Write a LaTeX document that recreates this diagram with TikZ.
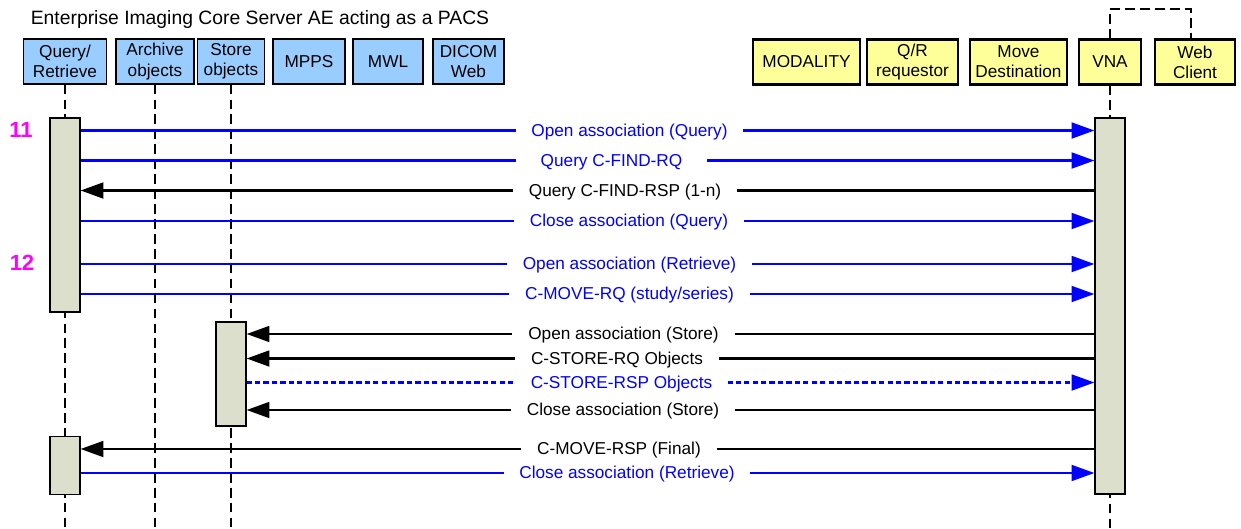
\documentclass[tikz,border=0pt]{standalone}
\usepackage{fontspec}
\setmainfont{Liberation Sans}
\usetikzlibrary{arrows.meta,positioning,calc}
\definecolor{pacsblue}{RGB}{153,204,255}
\definecolor{extyellow}{RGB}{255,255,153}
\definecolor{barfill}{RGB}{220,223,204}
\definecolor{stepnum}{RGB}{255,0,255}
\tikzset{
  pacs/.style={draw, fill=pacsblue, line width=0.7pt, minimum height=0.9cm, inner sep=1pt, align=center},
  extern/.style={draw, fill=extyellow, line width=1.2pt, minimum height=0.9cm, inner sep=1pt, align=center},
  life/.style={line width=0.85pt, dash pattern=on 5.5pt off 3pt},
  actbar/.style={draw, fill=barfill, line width=0.7pt, minimum width=0.6cm, inner sep=0pt},
  req/.style={blue, line width=1.4pt, -{Triangle[length=13pt,width=9pt]}},
  rsp/.style={black, line width=1.4pt, -{Triangle[length=13pt,width=9pt]}},
  lbl/.style={fill=white, inner xsep=9pt, inner ysep=1pt, yshift=-0.8pt},
}
\begin{document}
\begin{tikzpicture}[x=0.02cm, y=-0.02cm, font=\fontsize{9.8}{11.5}\selectfont]
\useasboundingbox (0,0) rectangle (1241,528);
\node[font=\fontsize{11}{13}\selectfont] (title) at (260,20) {Enterprise Imaging Core Server AE acting as a PACS};
\node[pacs, minimum width=1.66cm] (qr) at (65,61.5) {Query/\\Retrieve};
\node[pacs, minimum width=1.56cm] (arch) at (155,61.5) {Archive\\objects};
\node[pacs, minimum width=1.34cm] (store) at (231,61.5) {Store\\objects};
\node[pacs, minimum width=1.44cm] (mpps) at (309,61.5) {MPPS};
\node[pacs, minimum width=1.40cm] (mwl) at (388,61.5) {MWL};
\node[pacs, minimum width=1.42cm] (dweb) at (468.5,61.5) {DICOM\\Web};
\node[extern, minimum width=2.14cm] (mod) at (806.5,62) {MODALITY};
\node[extern, minimum width=1.82cm] (qrreq) at (912.5,62) {Q/R\\requestor};
\node[extern, minimum width=1.94cm] (movedest) at (1018.5,62) {Move\\Destination};
\node[extern, minimum width=1.24cm] (vna) at (1110,62) {VNA};
\node[extern, minimum width=1.60cm] (webcl) at (1195,62) {Web\\Client};
\draw[life] (vna.north) -- (vna.north |- 0,9) -- (1191,9) -- (webcl.north -| 1191,0);
\draw[life] (qr.south) -- (qr.south |- 0,528);
\draw[life] (arch.south) -- (arch.south |- 0,528);
\draw[life] (store.south) -- (store.south |- 0,528);
\draw[life] (vna.south) -- (vna.south |- 0,528);
\node[actbar, minimum height=3.88cm] (qrA) at (qr.south |- 0,215) {};
\node[actbar, minimum height=2.08cm] (stB) at (store.south |- 0,374) {};
\node[actbar, minimum height=1.15cm] (qrC) at (qr.south |- 0,465.5) {};
\node[actbar, minimum height=7.52cm] (vnaA) at (vna.south |- 0,306) {};
\node[text=stepnum, font=\fontsize{12.5}{14}\selectfont\bfseries] (s11) at (21,130) {11};
\node[text=stepnum, font=\fontsize{12.5}{14}\selectfont\bfseries] (s12) at (22,263) {12};
\draw[req] (qrA.east |- 0,130.5) -- (vnaA.west |- 0,130.5);
\node[lbl, text=blue] (m1) at (629.5,130.5) {Open association (Query)};
\draw[req] (qrA.east |- 0,160.5) -- (vnaA.west |- 0,160.5);
\node[lbl, text=blue, inner xsep=14pt] (m2) at (611.5,160.5) {Query C-FIND-RQ};
\draw[rsp] (vnaA.west |- 0,190.5) -- (qrA.east |- 0,190.5);
\node[lbl] (m3) at (625,190.5) {Query C-FIND-RSP (1-n)};
\draw[req] (qrA.east |- 0,221) -- (vnaA.west |- 0,221);
\node[lbl, text=blue] (m4) at (629,221) {Close association (Query)};
\draw[req] (qrA.east |- 0,264) -- (vnaA.west |- 0,264);
\node[lbl, text=blue] (m5) at (629.5,264) {Open association (Retrieve)};
\draw[req] (qrA.east |- 0,294) -- (vnaA.west |- 0,294);
\node[lbl, text=blue] (m6) at (629.5,294) {C-MOVE-RQ (study/series)};
\draw[rsp] (vnaA.west |- 0,334) -- (stB.east |- 0,334);
\node[lbl] (m7) at (623.5,334) {Open association (Store)};
\draw[rsp] (vnaA.west |- 0,358.5) -- (stB.east |- 0,358.5);
\node[lbl] (m8) at (617,358.5) {C-STORE-RQ Objects};
\draw[req, dash pattern=on 3pt off 1.8pt] (stB.east |- 0,382.5) -- (vnaA.west |- 0,382.5);
\node[lbl, text=blue] (m9) at (621.5,382.5) {C-STORE-RSP Objects};
\draw[rsp] (vnaA.west |- 0,410) -- (stB.east |- 0,410);
\node[lbl] (m10) at (623,410) {Close association (Store)};
\draw[rsp] (vnaA.west |- 0,449) -- (qrC.east |- 0,449);
\node[lbl] (m11) at (619,449) {C-MOVE-RSP (Final)};
\draw[req] (qrC.east |- 0,473) -- (vnaA.west |- 0,473);
\node[lbl, text=blue] (m12) at (627,473) {Close association (Retrieve)};
\end{tikzpicture}
\end{document}
